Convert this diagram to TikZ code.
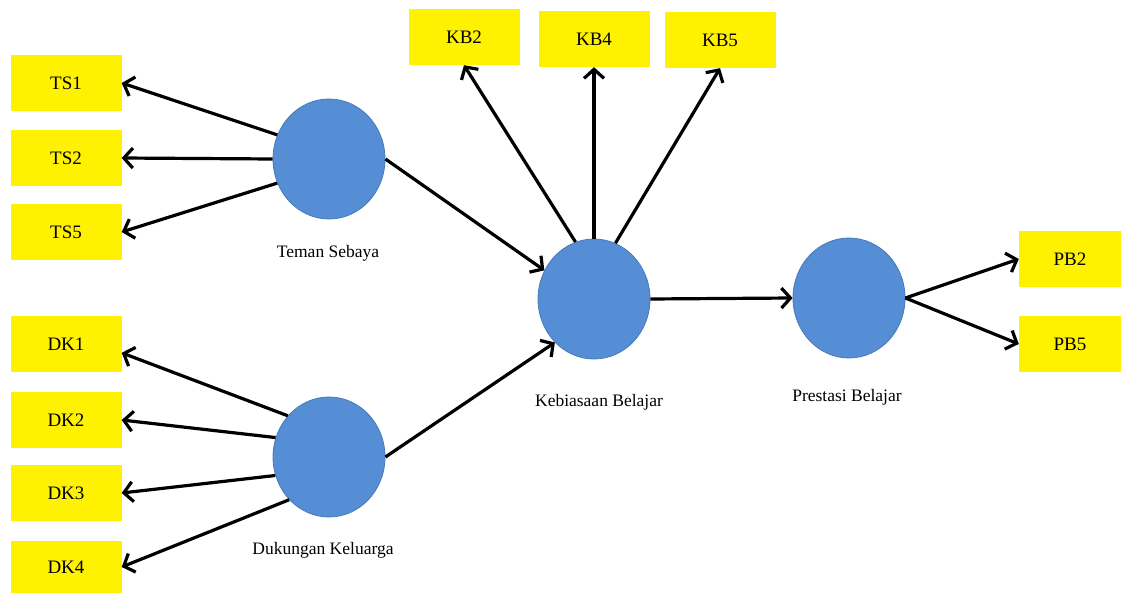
\documentclass[tikz,border=0pt]{standalone}
\usepackage{fontspec}
\setmainfont{Liberation Serif}
\usetikzlibrary{
    arrows.meta,
    positioning,
    shapes.geometric
}
\definecolor{latentblue}{RGB}{85,142,213}
\definecolor{latentedge}{RGB}{72,122,184}

\begin{document}
\begin{tikzpicture}[x=1pt, y=-1pt,
    item/.style={fill=yellow, minimum width=111pt, minimum height=56pt, inner sep=0pt, font=\fontsize{19}{21}\selectfont},
    latent/.style={ellipse, fill=latentblue, draw=latentedge, line width=0.8pt, minimum width=112pt, minimum height=120pt, inner sep=0pt},
    lvname/.style={font=\fontsize{17.5}{19}\selectfont},
    link/.style={line width=3.2pt, -{Straight Barb[length=9pt,width=20pt]}}
]
    \useasboundingbox (0,0) rectangle (1121,593);
    % latent variables
    \node[latent] (ts) at (329,159) {};
    \node[latent] (dk) at (329,457) {};
    \node[latent] (kb) at (594,299) {};
    \node[latent] (pb) at (849,298) {};
    \node[lvname] (tsname) at (328,253) {Teman Sebaya};
    \node[lvname] (dkname) at (323,550) {Dukungan Keluarga};
    \node[lvname] (kbname) at (599,402) {Kebiasaan Belajar};
    \node[lvname] (pbname) at (847,397) {Prestasi Belajar};
    % indicators
    \node[item] (ts1) at (66,83) {TS1};
    \node[item] (ts2) at (66,158) {TS2};
    \node[item] (ts5) at (66,232) {TS5};
    \node[item] (dk1) at (66,344) {DK1};
    \node[item] (dk2) at (66,420) {DK2};
    \node[item] (dk3) at (66,493) {DK3};
    \node[item, minimum height=52pt] (dk4) at (66,567) {DK4};
    \node[item] (kb2) at (464,37) {KB2};
    \node[item] (kb4) at (594,39) {KB4};
    \node[item] (kb5) at (720,40) {KB5};
    \node[item, minimum width=102pt] (pb2) at (1070,259) {PB2};
    \node[item, minimum width=102pt] (pb5) at (1070,344) {PB5};
    % loadings
    \draw[link] (ts.155) -- (ts1.east);
    \draw[link] (ts.west) -- (ts2.east);
    \draw[link] (ts.205) -- (ts5.east);
    \draw[link] (dk.135) -- (dk1.-9);
    \draw[link] (dk.160) -- (dk2.east);
    \draw[link] (dk.199) -- (dk3.east);
    \draw[link] (dk.227) -- (dk4.east);
    \draw[link] (kb.108) -- (kb2.south);
    \draw[link] (kb.north) -- (kb4.south);
    \draw[link] (kb.69) -- (kb5.south);
    \draw[link] (pb.east) -- (pb2.west);
    \draw[link] (pb.east) -- (pb5.west);
    % paths
    \draw[link] (ts.east) -- (kb.150);
    \draw[link] (dk.east) -- (kb.228);
    \draw[link] (kb.east) -- (pb.west);
\end{tikzpicture}
\end{document}
